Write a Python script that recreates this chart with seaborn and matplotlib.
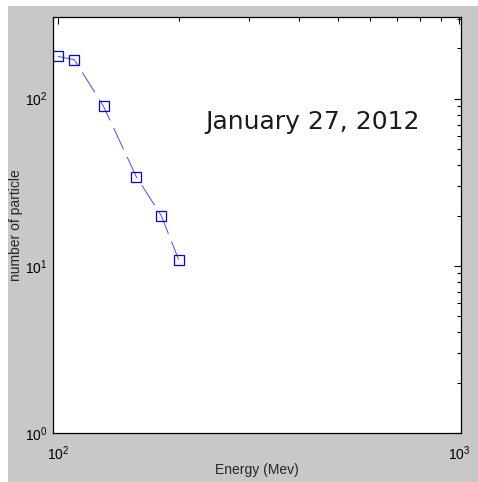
import matplotlib
matplotlib.use("Agg")
import matplotlib.pyplot as plt
import matplotlib.ticker as mticker
from matplotlib.patches import Rectangle
import seaborn as sns

# Data
energy = [100, 110, 130, 157, 181, 200]
particles = [179, 171, 90, 34, 20, 10.9]
date_label = "January 27, 2012"

sns.set_style("white")
plt.rcParams["font.family"] = ["Liberation Sans", "DejaVu Sans"]
plt.rcParams["mathtext.default"] = "regular"
plt.rcParams["lines.scale_dashes"] = False

fig = plt.figure(figsize=(4.78, 4.82), dpi=100)
# MATLAB-like grey figure background (white margin top/left)
fig.patches.append(Rectangle((8 / 478, 0), 1, 1 - 6 / 482, transform=fig.transFigure,
                             facecolor="#c8c8c8", edgecolor="none", zorder=-10))
ax = fig.add_axes([53 / 478, 49 / 482, 408 / 478, 416 / 482])
ax.set_facecolor("white")

sns.lineplot(x=energy, y=particles, ax=ax, color="#4a4aff", linewidth=0.7,
             linestyle=(0, (17, 6)), marker="s", markersize=7,
             markerfacecolor="none", markeredgecolor="#0000ff", markeredgewidth=0.9)

ax.set_xscale("log")
ax.set_yscale("log")
ax.set_xlim(97.3, 1010)
ax.set_ylim(1, 308)

ax.xaxis.set_major_locator(mticker.LogLocator(base=10))
ax.yaxis.set_major_locator(mticker.LogLocator(base=10))
ax.xaxis.set_minor_locator(mticker.LogLocator(base=10, subs=range(2, 10)))
ax.yaxis.set_minor_locator(mticker.LogLocator(base=10, subs=range(2, 10)))
ax.xaxis.set_minor_formatter(mticker.NullFormatter())
ax.yaxis.set_minor_formatter(mticker.NullFormatter())

ax.tick_params(which="both", direction="in", top=True, right=True, colors="black",
               labelsize=10, width=0.8)
ax.tick_params(which="major", length=5, pad=4)
ax.tick_params(axis="x", which="major", pad=8)
ax.tick_params(which="minor", length=3)
for s in ax.spines.values():
    s.set_color("black")
    s.set_linewidth(0.9)

ax.set_xlabel("Energy (Mev)", fontsize=10)
ax.set_ylabel("number of particle", fontsize=10)
ax.xaxis.set_label_coords(0.5, -(470 - 433) / 416)
ax.xaxis.label.set_va("center")
ax.yaxis.set_label_coords(-(53 - 16) / 408, 0.5)
ax.yaxis.label.set_va("center")

ax.text(205 / 478, 1 - 128.5 / 482, date_label, transform=fig.transFigure,
        fontsize=18, family=["DejaVu Sans"], va="baseline", ha="left",
        color="#1a1a1a")

fig.savefig("out.png", dpi=100)
